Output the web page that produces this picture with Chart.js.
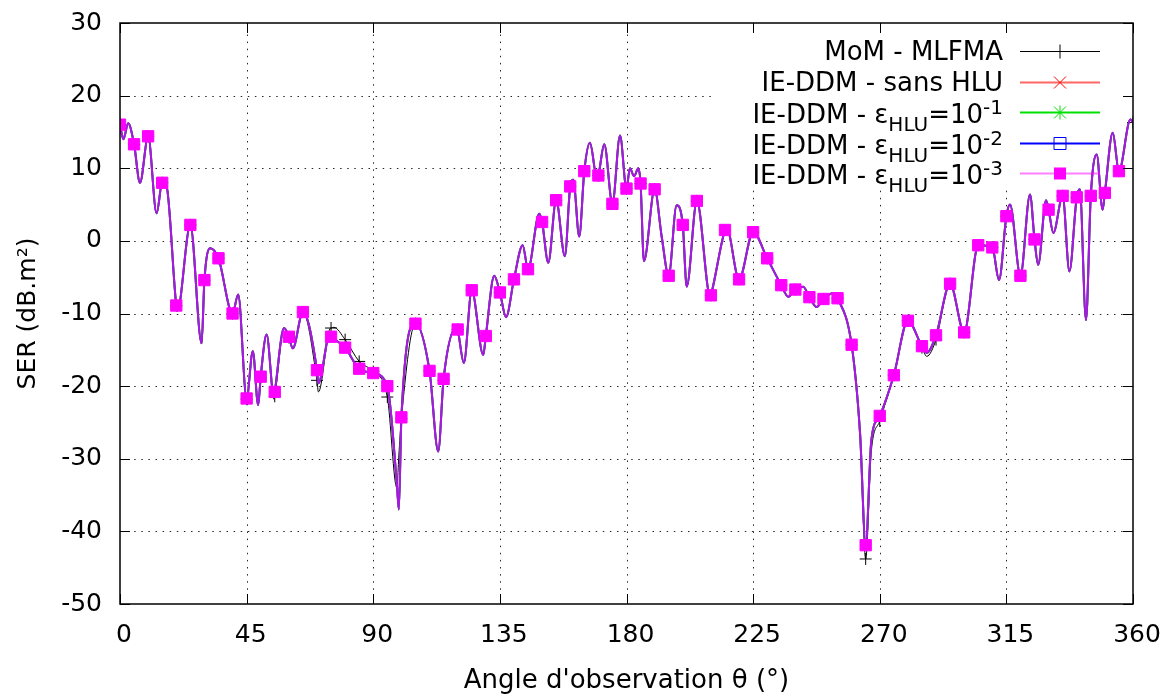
<!DOCTYPE html>
<html>
<head>
<meta charset="utf-8">
<script src="https://cdn.jsdelivr.net/npm/chart.js@4.4.1/dist/chart.umd.min.js"></script>
<style>
  body { margin: 0; background: #fff; }
  canvas { display: block; }
</style>
</head>
<body>
<canvas id="ch" width="1165" height="695"></canvas>
<script>
// angles (deg): 5-degree marker points plus the peaks/dips between them
const theta = [
  0, 1.2, 2.9, 5, 7.1, 10, 13, 15, 16.5, 20, 20.4, 25, 29, 30, 32, 35, 40, 42, 45, 47.2,
  49.1, 50, 52.1, 54.7, 55, 58.3, 60, 61.4, 65, 70, 70.5, 74.6, 75, 76, 80, 85, 90, 95, 98.4, 99.1,
  100, 105, 110, 113.1, 115, 119.6, 120, 122.2, 125, 129.1, 130, 133, 135, 137.2, 140, 143.1, 145, 149, 150, 152.2,
  155, 158.1, 160, 161.1, 163.2, 165, 167, 169.5, 170, 172.1, 175, 177.7, 180, 181.2, 182.7, 184.2, 185, 186.2, 190, 192.5,
  195, 197.8, 200, 201.4, 205, 209.8, 210, 215, 215.6, 220, 225, 230, 235, 237.5, 240, 242.8, 245, 247.6, 250, 253.3,
  255, 260, 263, 265, 267, 270, 275, 280, 285, 286.7, 290, 295, 300, 305, 310, 312.4, 315, 316.3, 320, 323.4,
  325, 326.3, 329.1, 330, 331.7, 335, 337.4, 340, 341.1, 343.3, 345, 347.1, 349.2, 350, 352.8, 355, 359.1, 360
];

// IE-DDM (all HLU settings overlap on the picture)
const serDDM = [
  16.0, 14.0, 16.2, 13.3, 8.0, 14.4, 3.8, 8.0, 7.6, -8.9, -9.6, 2.2, -14.1, -5.4, -1.0, -2.4, -10.0, -7.4, -21.7, -15.2,
  -22.6, -18.7, -12.9, -21.5, -20.8, -12.0, -13.2, -14.8, -9.8, -17.8, -19.6, -12.8, -13.2, -13.5, -14.7, -17.6, -18.2, -20.0, -33.5, -37.0,
  -24.3, -11.4, -17.9, -29.0, -19.0, -11.9, -12.2, -16.8, -6.8, -15.7, -13.1, -4.8, -7.1, -10.5, -5.3, -0.6, -3.9, 3.75, 2.6, -3.0,
  5.6, -2.1, 7.5, 8.4, 0.6, 9.6, 13.5, 8.7, 9.0, 13.3, 5.1, 14.5, 7.2, 10.0, 8.9, 10.0, 7.9, -2.8, 7.1, 0.6,
  -4.8, 4.9, 2.2, -6.3, 5.5, -7.7, -7.5, 1.5, 1.8, -5.3, 1.2, -2.4, -6.1, -7.7, -6.7, -6.3, -7.75, -9.1, -8.0, -7.2,
  -7.9, -14.3, -26.5, -41.9, -27.5, -24.1, -18.5, -11.0, -14.5, -15.4, -13.0, -5.9, -12.6, -0.6, -0.9, -5.4, 3.4, 5.0, -4.8, 6.4,
  0.2, -3.3, 5.6, 4.3, 1.1, 6.2, -4.2, 6.0, 7.1, -10.9, 6.2, 11.9, 4.3, 6.6, 14.9, 9.6, 16.7, 16.3
];

// MoM - MLFMA reference
const serMoM = [
  16.0, 14.0, 16.2, 13.3, 8.0, 14.4, 3.8, 8.0, 7.6, -8.9, -9.7, 2.2, -14.2, -5.4, -1.0, -2.4, -10.0, -7.4, -21.8, -15.2,
  -22.6, -18.8, -12.9, -21.8, -21.4, -12.0, -13.3, -14.8, -9.8, -19.2, -20.8, -12.1, -12.0, -11.9, -13.6, -16.6, -18.0, -21.5, -34.0, -29.5,
  -24.5, -11.4, -17.9, -29.0, -19.2, -11.9, -12.2, -16.8, -6.8, -15.7, -13.1, -4.8, -7.1, -10.5, -5.3, -0.6, -3.9, 3.75, 2.6, -3.0,
  5.6, -2.1, 7.5, 8.4, 0.6, 9.6, 13.5, 8.7, 9.0, 13.3, 5.1, 14.5, 7.2, 10.0, 8.9, 10.0, 7.9, -2.8, 7.1, 0.6,
  -4.8, 4.9, 2.2, -6.3, 5.5, -7.7, -7.5, 1.5, 1.8, -5.3, 1.2, -2.4, -6.1, -7.7, -6.7, -6.3, -7.75, -9.1, -8.0, -7.2,
  -7.9, -14.3, -26.5, -43.8, -29.0, -24.8, -18.5, -11.0, -14.7, -15.9, -13.6, -5.9, -12.6, -0.6, -0.9, -5.4, 3.4, 5.0, -4.8, 6.4,
  0.2, -3.3, 5.6, 4.3, 1.1, 6.2, -4.2, 6.0, 7.1, -10.9, 6.2, 11.9, 4.3, 6.6, 14.9, 9.6, 16.7, 16.3
];

const xTicks = [0, 45, 90, 135, 180, 225, 270, 315, 360];
const yTicks = [-50, -40, -30, -20, -10, 0, 10, 20, 30];

const FONT = '"DejaVu Sans", sans-serif';

// legend entries: text pieces (sub / sup), line colour, marker
const legendItems = [
  { parts: [['MoM - MLFMA']], line: '#000000', mark: 'plus', color: '#000000' },
  { parts: [['IE-DDM - sans HLU']], line: 'rgba(255,0,0,0.6)', mark: 'x', color: '#ff0000' },
  { parts: [['IE-DDM - ε'], ['HLU', 'sub'], ['=10'], ['-1', 'sup']], line: '#00e000', mark: 'star', color: '#00e000' },
  { parts: [['IE-DDM - ε'], ['HLU', 'sub'], ['=10'], ['-2', 'sup']], line: '#0000ff', mark: 'box', color: '#0000ff' },
  { parts: [['IE-DDM - ε'], ['HLU', 'sub'], ['=10'], ['-3', 'sup']], line: 'rgba(255,0,255,0.5)', mark: 'fbox', color: '#ff00ff' }
];

function pts(values) {
  return theta.map((t, i) => ({ x: t, y: values[i] }));
}
function every5(r, withLast) {
  return ctx => {
    const t = theta[ctx.dataIndex];
    if (t % 5 !== 0) return 0;
    if (!withLast && t === 360) return 0;
    return r;
  };
}

function drawMark(ctx, kind, x, y, color) {
  ctx.save();
  ctx.strokeStyle = color;
  ctx.fillStyle = color;
  ctx.lineWidth = 1;
  ctx.beginPath();
  if (kind === 'plus' || kind === 'star') {
    ctx.moveTo(x - 7, y); ctx.lineTo(x + 7, y);
    ctx.moveTo(x, y - 7); ctx.lineTo(x, y + 7);
  }
  if (kind === 'x' || kind === 'star') {
    ctx.moveTo(x - 6, y - 6); ctx.lineTo(x + 6, y + 6);
    ctx.moveTo(x - 6, y + 6); ctx.lineTo(x + 6, y - 6);
  }
  if (kind === 'box') ctx.rect(x - 6, y - 6, 12, 12);
  ctx.stroke();
  if (kind === 'fbox') ctx.fillRect(x - 6, y - 6, 12, 12);
  ctx.restore();
}

const gnuFrame = {
  id: 'gnuFrame',
  beforeDatasetsDraw(chart) {
    const { ctx, chartArea: a, scales: { x, y } } = chart;
    ctx.save();
    ctx.strokeStyle = 'rgba(0,0,0,0.85)';
    ctx.lineWidth = 1;
    ctx.setLineDash([1.5, 5.6]);
    xTicks.slice(1, -1).forEach(v => {
      const px = Math.round(x.getPixelForValue(v)) + 0.5;
      ctx.beginPath(); ctx.moveTo(px, a.bottom); ctx.lineTo(px, a.top); ctx.stroke();
    });
    yTicks.slice(1, -1).forEach(v => {
      const py = Math.round(y.getPixelForValue(v)) + 0.5;
      ctx.beginPath(); ctx.moveTo(a.left, py); ctx.lineTo(a.right, py); ctx.stroke();
    });
    ctx.setLineDash([]);
    // key box hides the grid behind it
    ctx.fillStyle = '#fff';
    ctx.fillRect(a.right - 417, a.top + 1, 416, 166);
    ctx.restore();
  },
  afterDatasetsDraw(chart) {
    const { ctx, chartArea: a, scales: { x, y } } = chart;
    ctx.save();
    ctx.strokeStyle = '#000';
    ctx.lineWidth = 1.5;
    ctx.strokeRect(a.left, a.top, a.right - a.left, a.bottom - a.top);
    ctx.lineWidth = 1;
    ctx.beginPath();
    xTicks.forEach(v => {
      const px = Math.round(x.getPixelForValue(v)) + 0.5;
      ctx.moveTo(px, a.bottom); ctx.lineTo(px, a.bottom - 10);
      ctx.moveTo(px, a.top); ctx.lineTo(px, a.top + 10);
    });
    yTicks.forEach(v => {
      const py = Math.round(y.getPixelForValue(v)) + 0.5;
      ctx.moveTo(a.left, py); ctx.lineTo(a.left + 10, py);
      ctx.moveTo(a.right, py); ctx.lineTo(a.right - 10, py);
    });
    ctx.stroke();

    // key
    const textRight = a.right - 130;
    ctx.textBaseline = 'alphabetic';
    ctx.fillStyle = '#000';
    legendItems.forEach((it, i) => {
      const ly = a.top + 28.4 + i * 30.5;
      const base = ly + (it.parts.length > 1 ? 11 : 9);
      let w = 0;
      it.parts.forEach(p => {
        ctx.font = (p[1] ? '20px ' : '26px ') + FONT;
        w += ctx.measureText(p[0]).width;
      });
      let cx = textRight - w;
      it.parts.forEach(p => {
        ctx.font = (p[1] ? '20px ' : '26px ') + FONT;
        const dy = p[1] === 'sub' ? 8 : p[1] === 'sup' ? -9 : 0;
        ctx.fillText(p[0], cx, base + dy);
        cx += ctx.measureText(p[0]).width;
      });
      ctx.strokeStyle = it.line;
      ctx.lineWidth = i === 0 ? 1 : 2;
      ctx.beginPath();
      ctx.moveTo(a.right - 113, Math.round(ly) + 0.5);
      ctx.lineTo(a.right - 33, Math.round(ly) + 0.5);
      ctx.stroke();
      drawMark(ctx, it.mark, a.right - 73, Math.round(ly) + 0.5, it.color);
    });
    ctx.restore();
  }
};

new Chart(document.getElementById('ch').getContext('2d'), {
  type: 'line',
  data: {
    datasets: [
      {
        label: 'MoM - MLFMA', data: pts(serMoM), order: 5,
        borderColor: '#000', borderWidth: 1,
        pointStyle: 'cross', pointRadius: every5(6, true), pointBorderColor: '#000', pointBorderWidth: 1
      },
      {
        label: 'IE-DDM - sans HLU', data: pts(serDDM), order: 4,
        borderColor: 'rgba(255,0,0,0.6)', borderWidth: 2,
        pointStyle: 'crossRot', pointRadius: every5(5, false), pointBorderColor: '#ff0000', pointBorderWidth: 1
      },
      {
        label: 'IE-DDM - eps 1e-1', data: pts(serDDM), order: 3,
        borderColor: '#00e000', borderWidth: 2,
        pointStyle: 'star', pointRadius: every5(5, false), pointBorderColor: '#00e000', pointBorderWidth: 1
      },
      {
        label: 'IE-DDM - eps 1e-2', data: pts(serDDM), order: 2,
        borderColor: 'rgba(0,0,255,0.7)', borderWidth: 2,
        pointStyle: 'rect', pointRadius: every5(5, false), pointBorderColor: '#0000ff',
        pointBackgroundColor: 'rgba(0,0,0,0)', pointBorderWidth: 1
      },
      {
        label: 'IE-DDM - eps 1e-3', data: pts(serDDM), order: 1,
        borderColor: 'rgba(255,0,255,0.68)', borderWidth: 2,
        pointStyle: 'rect', pointRadius: every5(8, false), pointBorderColor: '#ff00ff',
        pointBackgroundColor: '#ff00ff', pointBorderWidth: 1
      }
    ]
  },
  options: {
    responsive: false,
    animation: false,
    events: [],
    devicePixelRatio: 1,
    cubicInterpolationMode: 'monotone',
    layout: { padding: { top: 23, right: 32, left: 0, bottom: 0 } },
    plugins: { legend: { display: false }, tooltip: { enabled: false } },
    scales: {
      x: {
        type: 'linear', min: 0, max: 360,
        afterFit: s => { s.height = 91; s.paddingLeft = 0; s.paddingRight = 0; },
        grid: { display: false, drawTicks: false },
        border: { display: false },
        ticks: {
          stepSize: 45, autoSkip: false, maxRotation: 0, padding: 16, labelOffset: 4,
          color: '#000', font: { family: FONT, size: 25 }
        },
        title: {
          display: true, text: "Angle d'observation θ (°)", color: '#000',
          font: { family: FONT, size: 26 }, padding: { top: 0, bottom: -2 }
        }
      },
      y: {
        type: 'linear', min: -50, max: 30,
        afterFit: s => { s.width = 120; s.paddingTop = 0; s.paddingBottom = 0; },
        grid: { display: false, drawTicks: false },
        border: { display: false },
        ticks: {
          stepSize: 10, autoSkip: false, padding: 18,
          color: '#000', font: { family: FONT, size: 25 }
        },
        title: {
          display: true, text: 'SER (dB.m²)', color: '#000',
          font: { family: FONT, size: 25 }, padding: { top: 13, bottom: 0 }
        }
      }
    }
  },
  plugins: [gnuFrame]
});
</script>
</body>
</html>
